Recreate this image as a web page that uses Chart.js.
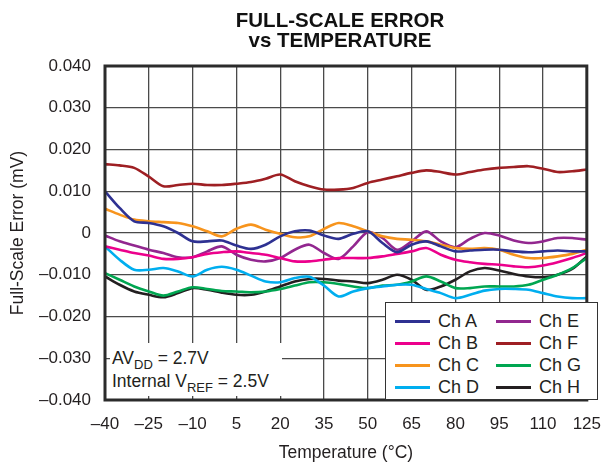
<!DOCTYPE html>
<html>
<head>
<meta charset="utf-8">
<script src="https://cdn.jsdelivr.net/npm/chart.js@4/dist/chart.umd.min.js"></script>
<style>
  body { margin: 0; background: #fff; }
  #wrap { position: relative; width: 615px; height: 466px; font-family: "Liberation Sans", Arial, sans-serif; color: #231F20; }
  #title { position: absolute; left: 190px; width: 300px; top: 10px; text-align: center; font-weight: bold; font-size: 20.5px; line-height: 20px; color: #111; }
  #note { position: absolute; left: 110px; top: 343px; width: 172px; height: 53px; background: #fff; font-size: 17.5px; line-height: 23px; padding: 4px 0 0 2px; box-sizing: border-box; }
  #note sub { font-size: 13px; vertical-align: -5px; line-height: 0; }
  #legend { position: absolute; left: 385px; top: 302px; width: 213px; height: 98px; background: #fff; border: 1.5px solid #333; box-sizing: border-box; display: grid; grid-template-columns: 1fr 1fr; padding: 7px 0 0 9px; row-gap: 0; font-size: 18px; }
  .item { display: flex; align-items: center; height: 22px; }
  .swatch { width: 35px; height: 3px; margin-right: 8px; }
</style>
</head>
<body>
<div id="wrap">
  <canvas id="chart" width="615" height="466"></canvas>
  <div id="title">FULL-SCALE ERROR<br>vs TEMPERATURE</div>
  <div id="note">AV<sub>DD</sub> = 2.7V<br>Internal V<sub>REF</sub> = 2.5V</div>
  <div id="legend"></div>
</div>
<script>
// temperature (°C)
const temps = [-40, -35, -30, -25, -20, -15, -10, -5, 0, 5, 10, 15, 20, 25, 30, 35, 40, 45, 50, 55, 60, 65, 70, 75, 80, 85, 90, 95, 100, 105, 110, 115, 120, 125];

// full-scale error (mV)
const chA = [0.0100, 0.0060, 0.0028, 0.0024, 0.0016, 0.0000, -0.0020, -0.0020, -0.0018, -0.0030, -0.0038, -0.0028, -0.0008, 0.0004, 0.0006, -0.0006, -0.0014, -0.0002, 0.0004, -0.0024, -0.0046, -0.0028, -0.0020, -0.0032, -0.0044, -0.0042, -0.0040, -0.0040, -0.0044, -0.0046, -0.0044, -0.0042, -0.0044, -0.0044];
const chB = [-0.0032, -0.0040, -0.0048, -0.0054, -0.0062, -0.0062, -0.0058, -0.0050, -0.0046, -0.0044, -0.0048, -0.0052, -0.0060, -0.0068, -0.0068, -0.0064, -0.0060, -0.0060, -0.0060, -0.0056, -0.0050, -0.0044, -0.0036, -0.0052, -0.0064, -0.0070, -0.0074, -0.0076, -0.0080, -0.0082, -0.0078, -0.0070, -0.0060, -0.0048];
const chC = [0.0058, 0.0044, 0.0032, 0.0028, 0.0026, 0.0024, 0.0016, 0.0004, -0.0008, 0.0010, 0.0020, 0.0008, -0.0002, -0.0010, -0.0008, 0.0010, 0.0024, 0.0016, 0.0004, -0.0008, -0.0014, -0.0016, -0.0020, -0.0028, -0.0036, -0.0038, -0.0036, -0.0040, -0.0052, -0.0060, -0.0060, -0.0056, -0.0050, -0.0040];
const chD = [-0.0032, -0.0064, -0.0088, -0.0088, -0.0084, -0.0092, -0.0104, -0.0088, -0.0081, -0.0088, -0.0102, -0.0116, -0.0118, -0.0108, -0.0105, -0.0126, -0.0152, -0.0140, -0.0132, -0.0128, -0.0124, -0.0124, -0.0134, -0.0144, -0.0156, -0.0148, -0.0138, -0.0134, -0.0134, -0.0136, -0.0144, -0.0152, -0.0156, -0.0156];
const chE = [-0.0006, -0.0020, -0.0030, -0.0040, -0.0048, -0.0058, -0.0058, -0.0044, -0.0032, -0.0052, -0.0064, -0.0068, -0.0060, -0.0040, -0.0028, -0.0048, -0.0062, -0.0032, 0.0002, -0.0012, -0.0040, -0.0020, 0.0004, -0.0020, -0.0034, -0.0014, 0.0000, -0.0006, -0.0018, -0.0024, -0.0020, -0.0012, -0.0012, -0.0016];
const chF = [0.0165, 0.0162, 0.0156, 0.0135, 0.0112, 0.0115, 0.0118, 0.0115, 0.0115, 0.0118, 0.0122, 0.0130, 0.0140, 0.0124, 0.0112, 0.0104, 0.0104, 0.0108, 0.0120, 0.0128, 0.0136, 0.0144, 0.0150, 0.0146, 0.0140, 0.0146, 0.0152, 0.0156, 0.0158, 0.0160, 0.0154, 0.0146, 0.0148, 0.0152];
const chG = [-0.0096, -0.0112, -0.0128, -0.0140, -0.0150, -0.0140, -0.0130, -0.0134, -0.0139, -0.0140, -0.0142, -0.0140, -0.0134, -0.0126, -0.0118, -0.0118, -0.0122, -0.0128, -0.0132, -0.0126, -0.0124, -0.0116, -0.0104, -0.0116, -0.0132, -0.0132, -0.0128, -0.0128, -0.0128, -0.0124, -0.0112, -0.0100, -0.0084, -0.0060];
const chH = [-0.0104, -0.0124, -0.0140, -0.0148, -0.0154, -0.0144, -0.0132, -0.0136, -0.0143, -0.0148, -0.0148, -0.0140, -0.0128, -0.0116, -0.0110, -0.0110, -0.0114, -0.0116, -0.0120, -0.0112, -0.0100, -0.0112, -0.0136, -0.0128, -0.0112, -0.0092, -0.0084, -0.0090, -0.0098, -0.0104, -0.0106, -0.0100, -0.0086, -0.0056];

const names = ["Ch A", "Ch B", "Ch C", "Ch D", "Ch E", "Ch F", "Ch G", "Ch H"];
const colors = ["#2E3192", "#EC008C", "#F7941D", "#00AEEF", "#92278F", "#9E1F23", "#00A651", "#231F20"];
const series = [chA, chB, chC, chD, chE, chF, chG, chH];

// tick labels, bottom to top / left to right
const yTickLabels = ["–0.040", "–0.030", "–0.020", "–0.010", "0", "0.010", "0.020", "0.030", "0.040"];
const xTickLabels = ["–40", "–25", "–10", "5", "20", "35", "50", "65", "80", "95", "110", "125"];

const font = "'Liberation Sans', Arial, sans-serif";
const ink = "#231F20";

const datasets = series.map((vals, i) => ({
    label: names[i],
    data: vals.map((v, j) => ({ x: temps[j], y: v })),
    borderColor: colors[i],
    borderWidth: 2.6,
    pointRadius: 0,
    tension: 0.3,
    fill: false
}));

// thick frame around the plot area
const frame = {
    id: "frame",
    afterDatasetsDraw(chart) {
        const a = chart.chartArea;
        const ctx = chart.ctx;
        ctx.save();
        ctx.strokeStyle = "#2b2b2b";
        ctx.lineWidth = 3;
        ctx.strokeRect(a.left, a.top, a.right - a.left, a.bottom - a.top);
        ctx.restore();
    }
};

new Chart(document.getElementById("chart"), {
    type: "line",
    data: { datasets: datasets },
    options: {
        responsive: false,
        animation: false,
        layout: { padding: { top: 66, right: 15, left: 0, bottom: 0 } },
        plugins: { legend: { display: false }, tooltip: { enabled: false } },
        scales: {
            x: {
                type: "linear",
                min: -40,
                max: 125,
                ticks: {
                    stepSize: 15,
                    padding: 14,
                    color: ink,
                    font: { family: font, size: 17 },
                    callback: (v, i) => xTickLabels[i]
                },
                grid: { color: "#4a4a4a", lineWidth: 1.3, drawTicks: false },
                border: { display: false },
                title: { display: true, text: "Temperature (°C)", color: ink, font: { family: font, size: 17.5 }, padding: { top: 0, bottom: 2 } },
                afterFit: (s) => { s.height = 66; }
            },
            y: {
                min: -0.04,
                max: 0.04,
                ticks: {
                    stepSize: 0.01,
                    padding: 14,
                    color: ink,
                    font: { family: font, size: 17 },
                    callback: (v, i) => yTickLabels[i]
                },
                grid: { color: "#4a4a4a", lineWidth: 1.3, drawTicks: false },
                border: { display: false },
                title: { display: true, text: "Full-Scale Error (mV)", color: ink, font: { family: font, size: 17.5 }, padding: { top: 8, bottom: 0 } },
                afterFit: (s) => { s.width = 105; }
            }
        }
    },
    plugins: [frame]
});

// legend in two columns: A..D on the left, E..H on the right
const legend = document.getElementById("legend");
[0, 4, 1, 5, 2, 6, 3, 7].forEach((i) => {
    const item = document.createElement("div");
    item.className = "item";
    item.innerHTML = '<span class="swatch" style="background:' + colors[i] + '"></span>' + names[i];
    legend.appendChild(item);
});
</script>
</body>
</html>
